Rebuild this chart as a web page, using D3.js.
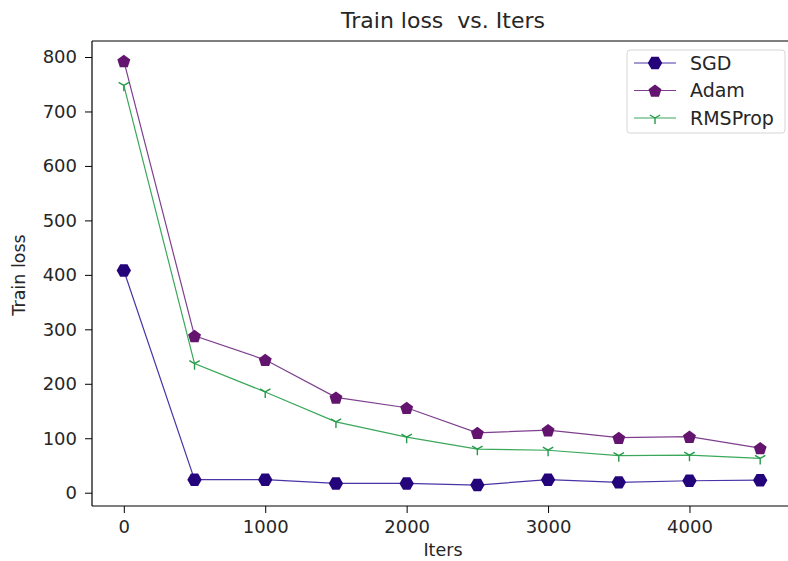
<!DOCTYPE html>
<html>
  <head>
    <title>Train loss vs. Iters</title>
    <script src="https://d3js.org/d3.v7.min.js"></script>
    <style>
      body { margin: 0; background: #fff; }
      text { font-family: "DejaVu Sans", sans-serif; fill: #262626; }
    </style>
  </head>
  <body>
    <svg width="788" height="561"></svg>

    <script type="text/javascript">
      // data
      var iters = [0, 500, 1000, 1500, 2000, 2500, 3000, 3500, 4000, 4500];
      var sgd = [408, 24, 24, 17, 17, 14, 24, 19, 22, 23];
      var adam = [793, 288, 244, 175, 156, 110, 115, 101, 103, 82];
      var rmsprop = [748, 237, 185, 130, 102, 80, 78, 68, 69, 63];
      var seriesNames = ["SGD", "Adam", "RMSProp"];
      var xTicks = [0, 1000, 2000, 3000, 4000];
      var yTicks = [0, 100, 200, 300, 400, 500, 600, 700, 800];

      var svg = d3.select("svg");
      var mLeft = 92, mRight = 792, mTop = 41, mBottom = 506;

      var x = d3.scaleLinear().domain([-225, 4725]).range([mLeft, mRight]);
      var y = d3.scaleLinear().domain([-24.4, 829.4]).range([mBottom, mTop]);

      var colors = ["#24047a", "#62146e", "#259a48"];
      var lineColors = ["#4b34a6", "#7e3f8e", "#3aa85a"];
      var allSeries = [sgd, adam, rmsprop];

      // polygon marker
      function polygon(n, r, rot) {
        var pts = [];
        for (var i = 0; i < n; i++) {
          var a = rot + (i * 2 * Math.PI) / n;
          pts.push([r * Math.sin(a), -r * Math.cos(a)]);
        }
        return "M" + pts.join("L") + "Z";
      }
      var hexPath = polygon(6, 7.2, Math.PI / 6);
      var pentPath = polygon(5, 6.8, 0);
      var triPath = "M0,0L0,6M0,0L-5.2,-3M0,0L5.2,-3";

      function drawMarker(g, i, cx, cy) {
        if (i === 0) {
          g.append("path").attr("d", hexPath)
            .attr("transform", "translate(" + cx + "," + cy + ")")
            .attr("fill", colors[0]);
        } else if (i === 1) {
          g.append("path").attr("d", pentPath)
            .attr("transform", "translate(" + cx + "," + (cy + 0.8) + ")")
            .attr("fill", colors[1]);
        } else {
          g.append("path").attr("d", triPath)
            .attr("transform", "translate(" + cx + "," + cy + ")")
            .attr("fill", "none")
            .attr("stroke", colors[2])
            .attr("stroke-width", 1.4);
        }
      }

      // axes
      var xAxis = svg.append("g")
        .attr("transform", "translate(0," + mBottom + ")")
        .call(d3.axisBottom(x).tickValues(xTicks).tickSize(7).tickPadding(7).tickFormat(d3.format("d")));
      var yAxis = svg.append("g")
        .attr("transform", "translate(" + mLeft + ",0)")
        .call(d3.axisLeft(y).tickValues(yTicks).tickSize(7).tickPadding(8).tickFormat(d3.format("d")));
      [xAxis, yAxis].forEach(function (a) {
        a.select(".domain").remove();
        a.selectAll("line").attr("stroke", "#000").attr("stroke-width", 1);
        a.selectAll("text").style("font-size", "18px").style("font-family", "DejaVu Sans");
      });

      // spines
      svg.append("line").attr("x1", mLeft).attr("x2", mLeft).attr("y1", mTop).attr("y2", mBottom)
        .attr("stroke", "#000").attr("stroke-width", 1.2);
      svg.append("line").attr("x1", mLeft).attr("x2", mRight).attr("y1", mBottom).attr("y2", mBottom)
        .attr("stroke", "#000").attr("stroke-width", 1.2);
      svg.append("line").attr("x1", mLeft).attr("x2", mRight).attr("y1", mTop).attr("y2", mTop)
        .attr("stroke", "#000").attr("stroke-width", 1.2);

      // series
      allSeries.forEach(function (vals, i) {
        var g = svg.append("g");
        var line = d3.line()
          .x(function (d, j) { return x(iters[j]); })
          .y(function (d) { return y(d); });
        g.append("path").datum(vals)
          .attr("fill", "none")
          .attr("stroke", lineColors[i])
          .attr("stroke-width", 1.2)
          .attr("d", line);
        vals.forEach(function (v, j) {
          drawMarker(g, i, x(iters[j]), y(v));
        });
      });

      // title and labels
      svg.append("text")
        .attr("x", 443).attr("y", 28)
        .attr("text-anchor", "middle")
        .style("font-size", "22px")
        .style("white-space", "pre")
        .text("Train loss  vs. Iters");
      svg.append("text")
        .attr("x", 443).attr("y", 556)
        .attr("text-anchor", "middle")
        .style("font-size", "17.5px")
        .text("Iters");
      svg.append("text")
        .attr("transform", "translate(25,275) rotate(-90)")
        .attr("text-anchor", "middle")
        .style("font-size", "17.5px")
        .text("Train loss");

      // legend
      var lg = svg.append("g");
      lg.append("rect")
        .attr("x", 627).attr("y", 50).attr("width", 158).attr("height", 83)
        .attr("rx", 3)
        .attr("fill", "#fff").attr("stroke", "#d6d6d6");
      seriesNames.forEach(function (name, i) {
        var ly = 63 + i * 27.5;
        lg.append("line")
          .attr("x1", 634).attr("x2", 676).attr("y1", ly).attr("y2", ly)
          .attr("stroke", lineColors[i]).attr("stroke-width", 1.2);
        drawMarker(lg, i, 655, ly);
        lg.append("text")
          .attr("x", 690).attr("y", ly)
          .attr("dy", "0.35em")
          .style("font-size", "19px")
          .text(name);
      });
    </script>
  </body>
</html>
